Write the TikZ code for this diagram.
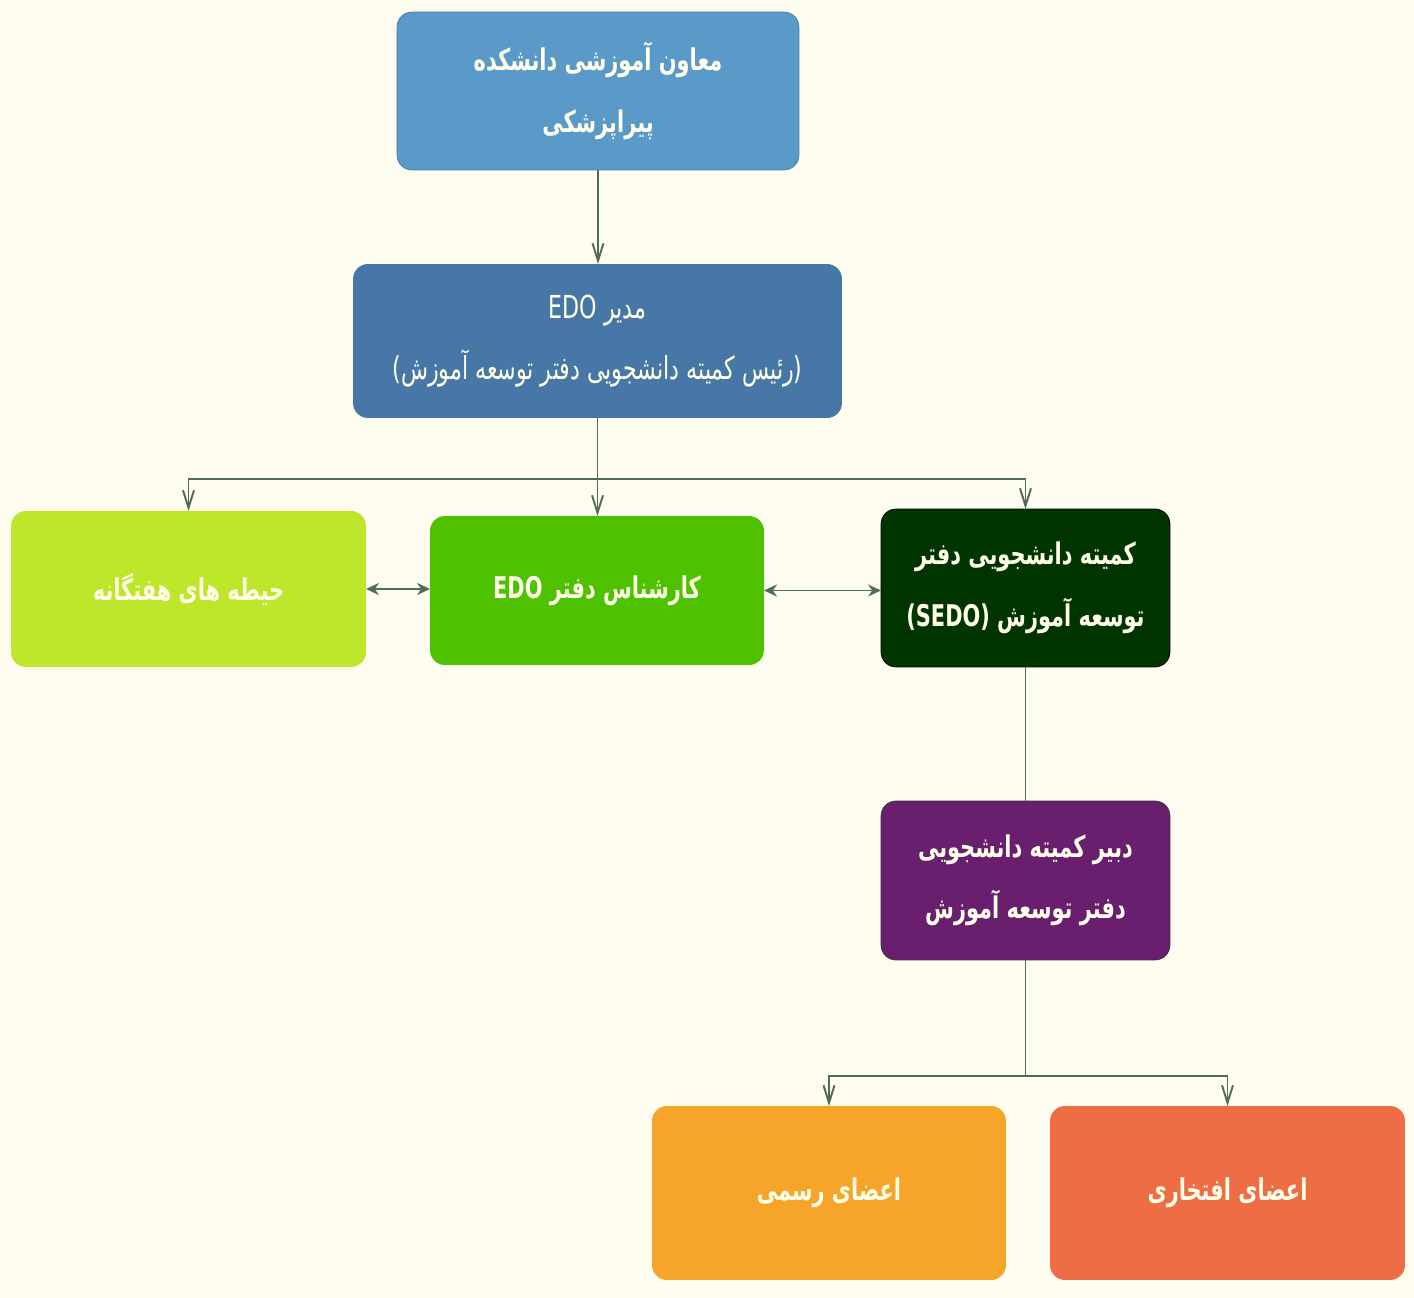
\documentclass[tikz,border=0pt]{standalone}
\usepackage{fontspec}
\usepackage{tikz}
\usetikzlibrary{arrows.meta}
\TeXXeTstate=1
\newfontfamily\fa[Script=Arabic,FakeStretch=0.7]{DejaVu Sans}
\newcommand{\rtl}[1]{\beginR #1\endR}
\newcommand{\ltr}[1]{\beginL #1\endL}

\definecolor{bgcol}{HTML}{FEFDF0}
\definecolor{topblue}{HTML}{5A9AC8}
\definecolor{mgrblue}{HTML}{4677A6}
\definecolor{limecol}{HTML}{BEE62B}
\definecolor{midgreen}{HTML}{4EC200}
\definecolor{darkgreen}{HTML}{003500}
\definecolor{purp}{HTML}{6A1F6E}
\definecolor{orng}{HTML}{F6A42A}
\definecolor{redorng}{HTML}{EF6D45}
\definecolor{linecol}{HTML}{4E6E55}
\definecolor{txtcol}{HTML}{FFFFEA}

\tikzset{
	box/.style={rectangle,rounded corners=0.3cm,inner sep=0pt,outer sep=0pt,
		align=center,text=txtcol,font=\fa\bfseries\fontsize{17}{35}\selectfont},
	link/.style={draw=linecol,line width=1.1pt},
	arr/.style={link,-{Straight Barb[length=3.5mm,width=2.2mm]}},
	twoway/.style={link,{Stealth[length=2.6mm,width=2.4mm]}-{Stealth[length=2.6mm,width=2.4mm]}}
}

\begin{document}
\begin{tikzpicture}[x=0.02cm,y=-0.02cm]
	\fill [bgcol] (0,0) rectangle (1414,1298);

	% boxes
	\node [box,fill=topblue,draw=topblue!80!black,minimum width=8.04cm,minimum height=3.16cm] (top) at (598,91)
		{\rtl{معاون آموزشی دانشکده}\\\rtl{پیراپزشکی}};
	\node [box,fill=mgrblue,minimum width=9.78cm,minimum height=3.08cm,font=\fa\fontsize{18}{35}\selectfont] (mgr) at (597.5,341)
		{\rtl{مدیر \ltr{EDO}}\\\rtl{(رئیس کمیته دانشجویی دفتر توسعه آموزش)}};
	\node [box,fill=limecol,minimum width=7.1cm,minimum height=3.12cm] (fields) at (188.5,589)
		{\rtl{حیطه های هفتگانه}};
	\node [box,fill=midgreen,minimum width=6.68cm,minimum height=2.98cm] (expert) at (597,590.5)
		{\rtl{کارشناس دفتر \ltr{EDO}}};
	\node [box,fill=darkgreen,draw=black,minimum width=5.78cm,minimum height=3.16cm] (sedo) at (1025.5,588)
		{\rtl{کمیته دانشجویی دفتر}\\\rtl{توسعه آموزش \ltr{(SEDO)}}};
	\node [box,fill=purp,draw=black!80,minimum width=5.78cm,minimum height=3.18cm] (secr) at (1025.5,880.5)
		{\rtl{دبیر کمیته دانشجویی}\\\rtl{دفتر توسعه آموزش}};
	\node [box,fill=orng,minimum width=7.08cm,minimum height=3.48cm] (official) at (829,1193)
		{\rtl{اعضای رسمی}};
	\node [box,fill=redorng,minimum width=7.1cm,minimum height=3.48cm] (honorary) at (1227.5,1193)
		{\rtl{اعضای افتخاری}};

	% connectors
	\coordinate (hub) at (598,479);
	\coordinate (hubb) at (1025.5,1076);
	\draw [arr] (top.south) -- (top.south|-mgr.north);
	\draw [arr] (mgr.south) -- (mgr.south|-expert.north);
	\draw [arr] (hub) -| (fields.north);
	\draw [arr] (hub) -| (sedo.north);
	\draw [twoway] (fields.east) -- (fields.east-|expert.west);
	\draw [twoway] (expert.east) -- (expert.east-|sedo.west);
	\draw [link] (sedo.south) -- (secr.north);
	\draw [link] (secr.south) -- (hubb);
	\draw [arr] (hubb) -| (official.north);
	\draw [arr] (hubb) -| (honorary.north);
\end{tikzpicture}
\end{document}
